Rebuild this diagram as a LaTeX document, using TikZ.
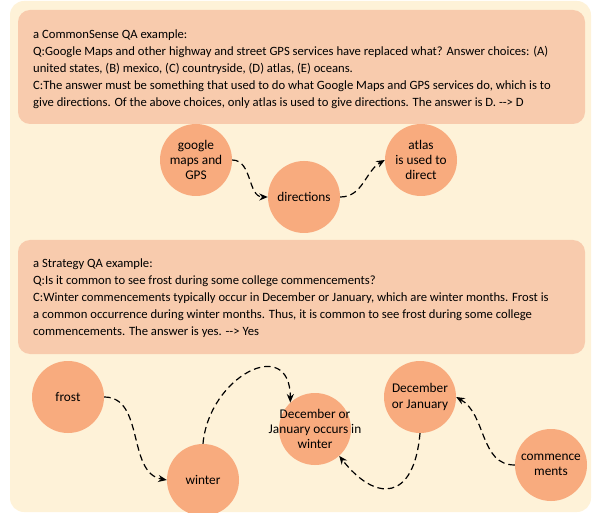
\documentclass[tikz,border=0pt]{standalone}
\usepackage{fontspec}
\setmainfont{Carlito}
\usetikzlibrary{arrows.meta}
\definecolor{bgc}{HTML}{FEF2D8}
\definecolor{boxc}{HTML}{F8CBAD}
\definecolor{circc}{HTML}{F8AB7E}
\begin{document}
\begin{tikzpicture}[x=1pt,y=-1pt,
  panel/.style={fill=boxc, rounded corners=12pt},
  txt/.style={anchor=north west, inner sep=0pt, align=left, font=\fontsize{12.65}{16.8}\selectfont},
  bub/.style={circle, fill=circc, minimum size=72pt, inner sep=0pt},
  lab/.style={align=center, inner sep=0pt, font=\fontsize{13.3}{15.2}\selectfont},
  flow/.style={dash pattern=on 6.5pt off 4pt, line width=1.2pt, -{Stealth[length=8.5pt,width=7pt]}}]
\useasboundingbox (0,0) rectangle (592,513);
\fill[bgc, rounded corners=14pt] (10,1) rectangle (591,512);
% panels
\fill[panel] (18,10) rectangle (585,124);
\fill[panel] (18,240) rectangle (585,354);
\node[txt] (t1) at (33,30) {a CommonSense QA example:\\
Q:Google Maps and other highway and street GPS services have replaced what? Answer choices: (A)\\
united states, (B) mexico, (C) countryside, (D) atlas, (E) oceans.\\
C:The answer must be something that used to do what Google Maps and GPS services do, which is to\\
give directions. Of the above choices, only atlas is used to give directions. The answer is D. {-}{-}> D};
\node[txt] (t2) at (33,259) {a Strategy QA example:\\
Q:Is it common to see frost during some college commencements?\\
C:Winter commencements typically occur in December or January, which are winter months. Frost is\\
a common occurrence during winter months. Thus, it is common to see frost during some college\\
commencements. The answer is yes. {-}{-}> Yes};
% upper graph
\node[bub, label={[lab]center:google\\maps and\\GPS}] (g) at (196,160) {};
\node[bub, label={[lab]center:directions}] (d) at (304,197) {};
\node[bub, label={[lab]center:atlas\\is used to\\direct}] (a) at (421,160) {};
\draw[flow] (g.east) to[out=0,in=180] (d.west);
\draw[flow] (d.east) to[out=0,in=210] (a.west);
% lower graph
\node[bub, label={[lab]center:frost}] (f) at (68,397) {};
\node[bub, label={[lab]center:winter}] (w) at (203,480) {};
\node[bub, label={[lab]center:December or\\January occurs in\\winter}] (o) at (315,429) {};
\node[bub, label={[lab]center:December\\or January}] (j) at (420,397) {};
\node[bub, label={[lab]center:commence\\ments}] (c) at (551,465) {};
\draw[flow] (f.east) to[out=0,in=170] (w.west);
\draw[flow] (w.north) to[out=85,in=90,looseness=1.8] (o.133);
\draw[flow] (j.south) to[out=-95,in=-52,out looseness=2.1,in looseness=1.8] (o.-48);
\draw[flow] (c.west) to[out=180,in=-30] (j.east);
\end{tikzpicture}
\end{document}
